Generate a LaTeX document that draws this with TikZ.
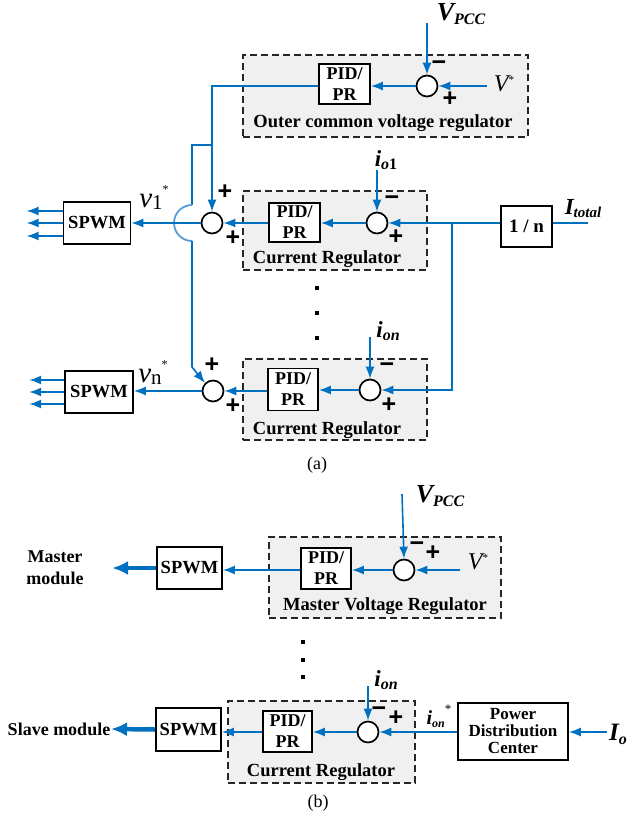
\documentclass[tikz,border=0pt]{standalone}
\usepackage{fontspec}
\setmainfont{Liberation Serif}
\setsansfont{Liberation Sans}
\usetikzlibrary{arrows.meta}
\definecolor{lblue}{RGB}{0,112,192}
\definecolor{hopblue}{RGB}{91,155,213}
\definecolor{grpfill}{RGB}{240,240,240}
\newcommand{\myfs}[2]{\fontsize{#1}{#2}\selectfont}
\tikzset{
  blk/.style={draw=black, line width=1.7pt, fill=white, inner sep=0pt, align=center, font=\myfs{18}{21}\bfseries},
  grp/.style={draw=black!85, dash pattern=on 7pt off 4pt, line width=1.2pt, fill=grpfill, inner sep=0pt},
  sumc/.style={circle, draw=black, line width=1.7pt, fill=white, minimum size=21pt, inner sep=0pt},
  wire/.style={draw=lblue, line width=1.6pt},
  sig/.style={wire, -{Latex[length=12pt,width=9pt]}},
  sigb/.style={draw=lblue, line width=1.6pt, -{Latex[length=12pt,width=9pt]}},
  fat/.style={draw=lblue, line width=4.5pt, -{Latex[length=16pt,width=14pt]}},
  hop/.style={draw=hopblue, line width=1.8pt},
  sgn/.style={font=\myfs{25}{25}\sffamily\bfseries, inner sep=0pt},
  lbl/.style={inner sep=0pt},
  rtxt/.style={inner sep=0pt, font=\myfs{18.5}{20}\bfseries},
  dotsq/.style={rectangle, fill=black, minimum size=4.5pt, inner sep=0pt},
  captxt/.style={inner sep=0pt, font=\myfs{18}{20}},
}
\begin{document}
\begin{tikzpicture}[x=1pt,y=-1pt]
\useasboundingbox (0,0) rectangle (629,818);

% ================= (a) =================
% outer voltage regulator
\node[grp, minimum width=285pt, minimum height=82pt] (gO) at (385.5,96) {};
\node[rtxt] (tO) at (383,123) {Outer common voltage regulator};
\node[blk, minimum width=51pt, minimum height=40pt] (pid0) at (344.5,84) {PID/\\PR};
\node[sumc] (s0) at (427,86) {};
\coordinate (vp0) at (427,23);
\node[lbl] (vpccA) at (461,14) {{\myfs{26}{26}\bfseries\itshape V}\raisebox{-4pt}{\myfs{16}{16}\bfseries\itshape PCC}};
\node[lbl] (vsA) at (504,84) {{\myfs{24}{24}\itshape V}\raisebox{8pt}{\myfs{11}{11}*}};
\coordinate (vin0) at (487,86);
\node[sgn] (m0) at (439,66) {−};
\node[sgn] (p0) at (450,99) {+};
\draw[sig] (vp0) -- (s0.north);
\draw[sig] (vin0) -- (s0.east);
\draw[sig] (s0.west) -- (s0.west -| pid0.east);

% current regulator 1
\node[grp, minimum width=184pt, minimum height=79pt] (g1) at (335,230.5) {};
\node[rtxt] (t1) at (327,259) {Current Regulator};
\node[blk, minimum width=51pt, minimum height=39pt] (pid1) at (294.5,222.5) {PID/\\PR};
\node[sumc] (c1) at (377,223) {};
\node[sumc] (s1) at (212,223) {};
\node[blk, minimum width=67pt, minimum height=42pt, font=\myfs{18.5}{20}\bfseries] (spwm1) at (97,223) {SPWM};
\node[blk, minimum width=51pt, minimum height=41pt, font=\myfs{19}{20}\bfseries] (div) at (526.5,226.5) {1 / n};
\coordinate (itin) at (588,223);
\node[lbl] (itot) at (583,209) {{\myfs{23}{23}\bfseries\itshape I}\raisebox{-3pt}{\myfs{15}{15}\bfseries\itshape total}};
\node[lbl] (io1) at (386,160) {{\myfs{23}{23}\bfseries\itshape i}\raisebox{-3pt}{\myfs{16}{16}\bfseries{\itshape o}1}};
\coordinate (io1s) at (377,170);
\node[sgn] (m1) at (392,201) {−};
\node[sgn] (p1) at (396,237) {+};
\node[sgn] (q1) at (225,192) {+};
\node[sgn] (r1) at (233,238) {+};
\node[lbl] (v1) at (154,198) {{\myfs{29}{29}\itshape v}\raisebox{-2pt}{\myfs{21}{21}1}\raisebox{14pt}{\myfs{12}{12}*}};

% junctions of outer regulator output
\coordinate (j0) at (212,86);
\coordinate (j1) at (212,145);
\coordinate (j2) at (192,145);
\coordinate (h1) at (192,205);
\coordinate (h2) at (192,241);
\coordinate (k1) at (192,367);

\draw[sig] (pid0.west |- s0.west) -- (j0) -- (s1.north);
\draw[wire] (j1) -- (j2) -- (h1);
\draw[hop] (h1) arc[start angle=90, end angle=270, radius=18pt];

\draw[wire] (itin) -- (div.east |- itin);
\draw[sig] (div.west |- c1) -- (c1.east);
\draw[sig] (io1s) -- (c1.north);
\draw[sig] (c1.west) -- (pid1.east |- c1);
\draw[sig] (pid1.west |- s1) -- (s1.east);
\draw[sig] (s1.west) -- (spwm1.east |- s1);
\draw[sig] ([yshift=12pt]spwm1.west) -- ++(-36,0);
\draw[sig] (spwm1.west) -- ++(-36,0);
\draw[sig] ([yshift=-13pt]spwm1.west) -- ++(-36,0);

% dots
\node[dotsq] (da1) at (317,288) {};
\node[dotsq] (da2) at (317,313) {};
\node[dotsq] (da3) at (317,338) {};

% current regulator n
\node[grp, minimum width=184pt, minimum height=81pt] (gn) at (335,399.5) {};
\node[rtxt] (tn) at (327,430) {Current Regulator};
\node[blk, minimum width=50pt, minimum height=42pt] (pidn) at (293,389.5) {PID/\\PR};
\node[sumc] (cn) at (370,390) {};
\node[sumc] (sn) at (213,391) {};
\node[blk, minimum width=68pt, minimum height=42pt, font=\myfs{18.5}{20}\bfseries] (spwmn) at (99,392) {SPWM};
\node[lbl] (ion) at (388,331) {{\myfs{23}{23}\bfseries\itshape i}\raisebox{-3pt}{\myfs{16}{16}\bfseries\itshape on}};
\coordinate (ions) at (370,337);
\coordinate (jn) at (452,223);
\coordinate (jn2) at (452,390);
\node[sgn] (mn) at (387,368) {−};
\node[sgn] (pn) at (389,405) {+};
\node[sgn] (qn) at (212,365) {+};
\node[sgn] (rn) at (233,406) {+};
\node[lbl] (vn) at (153,373) {{\myfs{29}{29}\itshape v}\raisebox{-2pt}{\myfs{21}{21}n}\raisebox{14pt}{\myfs{12}{12}*}};

\draw[sig] (h2) -- (k1) -- (sn.north west);
\draw[sig] (jn) -- (jn2) -- (cn.east);
\draw[sig] (ions) -- (cn.north);
\draw[sig] (cn.west) -- (pidn.east |- cn);
\draw[sig] (pidn.west |- sn) -- (sn.east);
\draw[sig] (sn.west) -- (spwmn.east |- sn);
\draw[sig] ([yshift=12pt]spwmn.west) -- ++(-35,0);
\draw[sig] (spwmn.west) -- ++(-35,0);
\draw[sig] ([yshift=-12pt]spwmn.west) -- ++(-35,0);

\node[captxt] (capa) at (317,465) {(a)};

% ================= (b) =================
\node[grp, minimum width=232pt, minimum height=81pt] (gb1) at (385,577.5) {};
\node[rtxt] (tb1) at (385,606) {Master Voltage Regulator};
\node[blk, minimum width=50pt, minimum height=41pt] (pidb1) at (326,568.5) {PID/\\PR};
\node[sumc] (cb1) at (404,570) {};
\node[blk, minimum width=65pt, minimum height=42pt, font=\myfs{18.5}{20}\bfseries] (spwmb1) at (189.5,568) {SPWM};
\node[lbl, align=center, font=\myfs{18}{22}\bfseries] (mm) at (55,568) {Master\\module};
\coordinate (mmend) at (112,568);
\node[lbl] (vpccB) at (440,496) {{\myfs{26}{26}\bfseries\itshape V}\raisebox{-4pt}{\myfs{16}{16}\bfseries\itshape PCC}};
\coordinate (vpb) at (402,494);
\node[lbl] (vsB) at (478,562) {{\myfs{24}{24}\itshape V}\raisebox{8pt}{\myfs{11}{11}*}};
\coordinate (vinb) at (460,570);
\node[sgn] (mb1) at (417,547) {−};
\node[sgn] (pb1) at (433,553) {+};

\draw[sig] (vpb) -- (cb1.north);
\draw[sig] (vinb) -- (cb1.east);
\draw[sigb] (cb1.west) -- (pidb1.east |- cb1);
\draw[sigb] (pidb1.west |- cb1) -- (spwmb1.east |- cb1);
\draw[fat] (spwmb1.west) -- (mmend);

\node[dotsq] (db1) at (303,642) {};
\node[dotsq] (db2) at (303,660) {};
\node[dotsq] (db3) at (303,677) {};

\node[grp, minimum width=187pt, minimum height=82pt] (gb2) at (321.5,742) {};
\node[rtxt] (tb2) at (321,772) {Current Regulator};
\node[blk, minimum width=49pt, minimum height=41pt] (pidb2) at (287.5,731.5) {PID/\\PR};
\node[sumc] (cb2) at (368,732) {};
\node[blk, minimum width=65pt, minimum height=43pt, font=\myfs{18.5}{20}\bfseries] (spwmb2) at (188.5,729.5) {SPWM};
\node[lbl, font=\myfs{18}{20}\bfseries] (sm) at (59,729) {Slave module};
\coordinate (smend) at (111,729);
\node[blk, minimum width=110pt, minimum height=57pt, font=\myfs{17}{17}\bfseries] (pdc) at (513,731.5) {Power\\Distribution\\Center};
\node[lbl] (ionb) at (386,680) {{\myfs{23}{23}\bfseries\itshape i}\raisebox{-3pt}{\myfs{16}{16}\bfseries\itshape on}};
\coordinate (ionbs) at (368,686);
\node[lbl] (ionst) at (439,716) {{\myfs{20}{20}\bfseries\itshape i}\raisebox{-3pt}{\myfs{12}{12}\bfseries\itshape on}\raisebox{11pt}{\myfs{13}{13}*}};
\node[lbl] (io) at (618,734) {{\myfs{25}{25}\bfseries\itshape I}\raisebox{-4pt}{\myfs{16}{16}\bfseries\itshape o}};
\coordinate (ioin) at (607,732);
\node[sgn] (mb2) at (379,712) {−};
\node[sgn] (pb2) at (396,718) {+};

\draw[sig] (ionbs) -- (cb2.north);
\draw[sig] (ioin) -- (pdc.east |- ioin);
\draw[sigb] (pdc.west |- cb2) -- (cb2.east);
\draw[sigb] (cb2.west) -- (pidb2.east |- cb2);
\draw[sigb] (pidb2.west |- cb2) -- (spwmb2.east |- cb2);
\draw[fat] (spwmb2.west) -- (smend);

\node[captxt] (capb) at (318,803) {(b)};
\end{tikzpicture}
\end{document}
